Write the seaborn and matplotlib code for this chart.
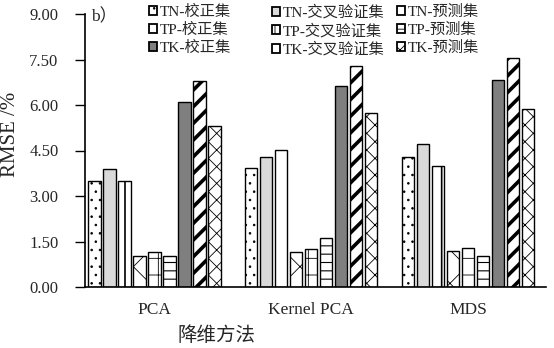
import numpy as np
import pandas as pd
import matplotlib
matplotlib.use("Agg")
import matplotlib.pyplot as plt
import seaborn as sns
from matplotlib.patches import Patch

methods = ["PCA", "Kernel PCA", "MDS"]
series = ["TN-校正集", "TN-交叉验证集", "TN-预测集",
          "TP-校正集", "TP-交叉验证集", "TP-预测集",
          "TK-校正集", "TK-交叉验证集", "TK-预测集"]
tn_cal = [3.49, 3.91, 4.27]
tn_cv = [3.90, 4.29, 4.73]
tn_pred = [3.51, 4.53, 3.99]
tp_cal = [1.03, 1.14, 1.18]
tp_cv = [1.14, 1.24, 1.30]
tp_pred = [1.03, 1.60, 1.02]
tk_cal = [6.10, 6.62, 6.82]
tk_cv = [6.79, 7.30, 7.55]
tk_pred = [5.31, 5.74, 5.88]
yticks = [0, 1.5, 3.0, 4.5, 6.0, 7.5, 9.0]

values = [tn_cal, tn_cv, tn_pred, tp_cal, tp_cv, tp_pred, tk_cal, tk_cv, tk_pred]
rows = []
for s, vals in zip(series, values):
    for m, v in zip(methods, vals):
        rows.append({"方法": m, "系列": s, "RMSE": v})
df = pd.DataFrame(rows)

sns.set_style("white")
plt.rcParams['font.family'] = ['Liberation Serif', 'Noto Sans CJK SC', 'DejaVu Sans']
plt.rcParams['hatch.linewidth'] = 0.6

fills = ["white", "#d9d9d9", "white", "white", "white", "white", "#7f7f7f", "white", "white"]
hatches = ["..", None, "|", "x", "+", "--", None, "//", "xx"]
hatch_lw = [0.6, 0.6, 1.2, 0.6, 0.6, 0.8, 0.6, 2.6, 0.6]

fig = plt.figure(figsize=(5.54, 3.48), dpi=100)
ax = fig.add_axes([85 / 554, 61 / 348, 461.4 / 554, 273 / 348])

sns.barplot(data=df, x="方法", y="RMSE", hue="系列", order=methods, hue_order=series,
            width=0.861, gap=0.17, palette=fills, edgecolor="black", linewidth=1.0,
            saturation=1, legend=False, ax=ax)

def style_patch(p, h, lw):
    if h:
        p.set_hatch(h)
        if hasattr(p, "set_hatch_linewidth"):
            p.set_hatch_linewidth(lw)
    p.set_edgecolor("black")

for cont, h, lw in zip(ax.containers, hatches, hatch_lw):
    for bar in cont:
        style_patch(bar, h, lw)

ax.set_xlim(-0.443, 2.5)
ax.set_ylim(0, 9)
ax.set_yticks(yticks)
ax.set_yticklabels([f"{t:.2f}" for t in yticks], fontsize=12)
ax.set_xticks([0, 1, 2])
ax.set_xticklabels(methods, fontsize=12.5)
ax.set_xticks([0.5, 1.5, 2.5], minor=True)
ax.tick_params(axis="x", which="major", length=0, pad=11)
ax.tick_params(axis="x", which="minor", direction="in", length=4, width=1, color="black")
ax.tick_params(axis="y", direction="out", length=7, width=1, color="black", left=True, pad=12)
for sp in ["top", "right"]:
    ax.spines[sp].set_visible(False)
for sp in ["left", "bottom"]:
    ax.spines[sp].set_color("black")
    ax.spines[sp].set_linewidth(1.2)

ax.set_ylabel("RMSE /%", fontsize=15)
ax.yaxis.set_label_coords(-0.141, 0.56)
ax.set_xlabel("降维方法", fontsize=14)
ax.xaxis.set_label_coords(0.285, -0.145)

ax.text(0.012, 1.018, "b）", transform=ax.transAxes, fontsize=12.5, va="top", ha="left")

# legend: three columns placed individually
col_x = [149, 272, 397]
for c in range(3):
    idx = [c, c + 3, c + 6]
    hs = []
    for i in idx:
        p = Patch(facecolor=fills[i], edgecolor="black", linewidth=1.3)
        style_patch(p, hatches[i], min(hatch_lw[i], 1.2))
        hs.append(p)
    lg = fig.legend(hs, [series[i] for i in idx], ncol=1, loc="upper left",
                    bbox_to_anchor=(col_x[c] / 554, 1 - 5 / 348),
                    bbox_transform=fig.transFigure, frameon=False,
                    fontsize=11, handlelength=0.5, handleheight=0.5, handletextpad=0.2,
                    labelspacing=0.25, borderpad=0, borderaxespad=0)

fig.savefig("out.png", dpi=100)
